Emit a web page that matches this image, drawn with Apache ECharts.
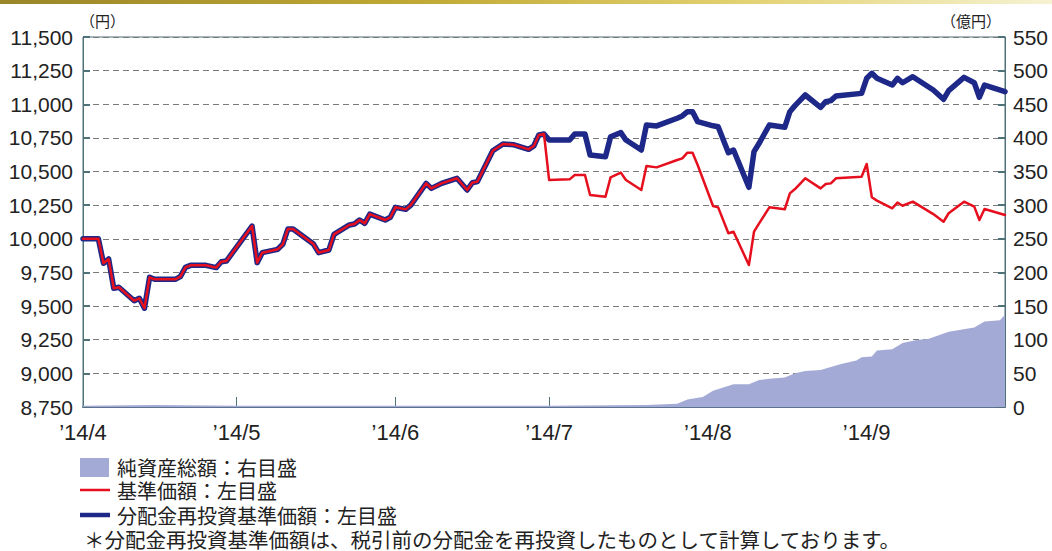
<!DOCTYPE html>
<html><head><meta charset="utf-8">
<script src="https://cdn.jsdelivr.net/npm/echarts@6/dist/echarts.min.js"></script>
<style>html,body{margin:0;padding:0;background:#fff}#c{width:1052px;height:551px}</style>
</head><body><div id="c"></div>
<script>
// ---- data ----
const lineDates = ['2014-04-01','2014-04-04','2014-04-05','2014-04-06','2014-04-07','2014-04-08','2014-04-11','2014-04-12','2014-04-13','2014-04-14','2014-04-15','2014-04-19','2014-04-20','2014-04-21','2014-04-22','2014-04-25','2014-04-27','2014-04-28','2014-04-29',
'2014-05-04','2014-05-05','2014-05-06','2014-05-09','2014-05-10','2014-05-11','2014-05-12','2014-05-16','2014-05-17','2014-05-19','2014-05-20','2014-05-23','2014-05-24','2014-05-25','2014-05-26','2014-05-27','2014-05-30','2014-05-31',
'2014-06-01','2014-06-03','2014-06-04','2014-06-07','2014-06-08','2014-06-10','2014-06-13','2014-06-15','2014-06-16','2014-06-17','2014-06-20','2014-06-22','2014-06-24','2014-06-27','2014-06-28','2014-06-29','2014-06-30',
'2014-07-01','2014-07-05','2014-07-06','2014-07-08','2014-07-09','2014-07-12','2014-07-13','2014-07-15','2014-07-16','2014-07-19','2014-07-20','2014-07-22','2014-07-26','2014-07-27','2014-07-28','2014-07-29','2014-07-30',
'2014-08-02','2014-08-03','2014-08-05','2014-08-06','2014-08-09','2014-08-10','2014-08-11','2014-08-13','2014-08-16','2014-08-17','2014-08-18','2014-08-20','2014-08-23','2014-08-24','2014-08-25','2014-08-26','2014-08-31',
'2014-09-01','2014-09-02','2014-09-03','2014-09-06','2014-09-07','2014-09-08','2014-09-10','2014-09-14','2014-09-16','2014-09-17','2014-09-20','2014-09-22','2014-09-23','2014-09-24','2014-09-28'];
const reinvestedNav = [10000,10000,9818,9850,9632,9640,9540,9558,9484,9714,9699,9699,9719,9788,9803,9803,9786,9830,9835,
10095,9823,9897,9922,9959,10073,10073,9961,9897,9917,10033,10103,10110,10140,10115,10184,10140,10160,
10234,10219,10251,10412,10375,10412,10450,10363,10417,10425,10655,10705,10700,10665,10690,10772,10779,
10734,10734,10779,10779,10623,10610,10759,10789,10734,10660,10846,10839,10896,10913,10945,10945,10871,
10840,10833,10640,10660,10383,10648,10710,10846,10829,10945,10990,11069,10977,11019,11027,11062,11081,
11193,11230,11193,11143,11193,11160,11205,11106,11037,11101,11200,11160,11052,11143,11094];
const nav = [10000,10000,9818,9850,9632,9640,9540,9558,9484,9714,9699,9699,9719,9788,9803,9803,9786,9830,9835,
10095,9823,9897,9922,9959,10073,10073,9961,9897,9917,10033,10103,10110,10140,10115,10184,10140,10160,
10234,10219,10251,10412,10375,10412,10450,10363,10417,10425,10655,10705,10700,10665,10690,10772,10779,
10437,10442,10474,10474,10326,10313,10457,10492,10437,10363,10541,10531,10586,10598,10640,10640,10549,
10244,10234,10041,10053,9805,10053,10115,10234,10219,10338,10370,10450,10375,10407,10412,10450,10462,
10556,10309,10284,10227,10269,10246,10276,10184,10127,10190,10276,10239,10140,10222,10177];
const assetDates = ['2014-04-01','2014-04-15','2014-05-01','2014-06-01','2014-07-01','2014-07-20','2014-07-26','2014-07-28','2014-07-31','2014-08-02','2014-08-04','2014-08-06','2014-08-09','2014-08-11','2014-08-13','2014-08-16','2014-08-18','2014-08-20','2014-08-23','2014-08-27','2014-08-30','2014-08-31','2014-09-02','2014-09-03','2014-09-06','2014-09-08','2014-09-11','2014-09-13','2014-09-17','2014-09-22','2014-09-24','2014-09-27','2014-09-28'];
const netAssets = [2,3,2,2,2,3,5,11,15,24,29,34,34,40,42,44,50,53.5,55,64,69,74,75,84,86,95,100,101,112,118,127,129,137];
const monthTicks = ['2014-04-01','2014-05-01','2014-06-01','2014-07-01','2014-08-01','2014-09-01'];
const monthLabels = ['’14/4','’14/5','’14/6','’14/7','’14/8','’14/9'];
const leftTicks = ['8,750','9,000','9,250','9,500','9,750','10,000','10,250','10,500','10,750','11,000','11,250','11,500'];
const seriesNames = ['純資産総額：右目盛','基準価額：左目盛','分配金再投資基準価額：左目盛'];
const footnote = '＊分配金再投資基準価額は、税引前の分配金を再投資したものとして計算しております。';

// ---- build ----
function ts(s){const p=s.split('-');return Date.UTC(+p[0],+p[1]-1,+p[2]);}
const tickTs = monthTicks.map(ts);
const frame = '#4f7178';
const numFont = 'Liberation Sans, Arial, sans-serif';
const jpFont = '"Noto Sans CJK JP", sans-serif';
function label(x,y,text,size,align){
  return {type:'text',x:x,y:y,style:{text:text,fontFamily:jpFont,fontSize:size,lineHeight:size,fill:'#222',
    textAlign:align||'left',textVerticalAlign:'middle'}};
}
const chart = echarts.init(document.getElementById('c'), null, {renderer:'svg'});
chart.setOption({
  animation:false,
  backgroundColor:'#fff',
  grid:{left:83,right:47,top:37,bottom:144,show:true,borderColor:frame,borderWidth:1,backgroundColor:'transparent'},
  xAxis:{type:'value',min:ts('2014-04-01'),max:ts('2014-09-28'),
    axisLine:{show:true,lineStyle:{color:'#5d7191',width:2}},
    axisTick:{show:true,inside:true,length:10,customValues:tickTs,lineStyle:{color:frame,width:1}},
    axisLabel:{customValues:tickTs,margin:14,fontFamily:numFont,fontSize:22,color:'#222',
      formatter:function(v){const i=tickTs.indexOf(v);return i>=0?monthLabels[i]:'';}},
    splitLine:{show:false}},
  yAxis:[
    {type:'value',min:8750,max:11500,interval:250,position:'left',
     axisLine:{show:true,lineStyle:{color:frame,width:1}},
     axisTick:{show:true,inside:true,length:7,lineStyle:{color:frame,width:2}},
     axisLabel:{margin:10,fontFamily:numFont,fontSize:21,color:'#222',
       formatter:function(v){return leftTicks[Math.round((v-8750)/250)];}},
     splitLine:{show:true,lineStyle:{color:'#7a7a7a',type:[6,4],width:1}}},
    {type:'value',min:0,max:550,interval:50,position:'right',
     axisLine:{show:true,lineStyle:{color:frame,width:1}},
     axisTick:{show:true,inside:true,length:7,lineStyle:{color:frame,width:2}},
     axisLabel:{margin:8,fontFamily:numFont,fontSize:21,color:'#222'},
     splitLine:{show:false}}
  ],
  series:[
    {name:seriesNames[0],type:'line',yAxisIndex:1,symbol:'none',z:1,
     data:assetDates.map((d,i)=>[ts(d),netAssets[i]]),
     lineStyle:{width:0},areaStyle:{color:'#a4aad6',opacity:1}},
    {name:seriesNames[2],type:'line',yAxisIndex:0,symbol:'none',z:3,
     data:lineDates.map((d,i)=>[ts(d),reinvestedNav[i]]),
     lineStyle:{color:'#1d2888',width:5.5,join:'round',cap:'round'}},
    {name:seriesNames[1],type:'line',yAxisIndex:0,symbol:'none',z:4,
     data:lineDates.map((d,i)=>[ts(d),nav[i]]),
     lineStyle:{color:'#e60f1e',width:2.5,join:'round',cap:'round'}}
  ],
  graphic:[
    {type:'rect',shape:{x:0,y:0,width:1052,height:4},silent:true,
     style:{fill:new echarts.graphic.LinearGradient(0,0,1,0,[{offset:0,color:'#9a8628'},{offset:0.4,color:'#c2a935'},{offset:0.7,color:'#e2d170'},{offset:1,color:'#f6f2d2'}])}},
    label(80,20,'（円）',15),
    label(1001,20,'（億円）',15,'right'),
    {type:'rect',shape:{x:80,y:458,width:29,height:19},style:{fill:'#a4aad6'}},
    label(117,467,seriesNames[0],20),
    {type:'line',shape:{x1:80,y1:490,x2:110,y2:490},style:{stroke:'#e60f1e',lineWidth:2.5}},
    label(117,490,seriesNames[1],20),
    {type:'line',shape:{x1:80,y1:515,x2:110,y2:515},style:{stroke:'#1d2888',lineWidth:4.5}},
    label(117,515,seriesNames[2],20),
    label(84,539,footnote,20.5)
  ]
});
</script></body></html>
